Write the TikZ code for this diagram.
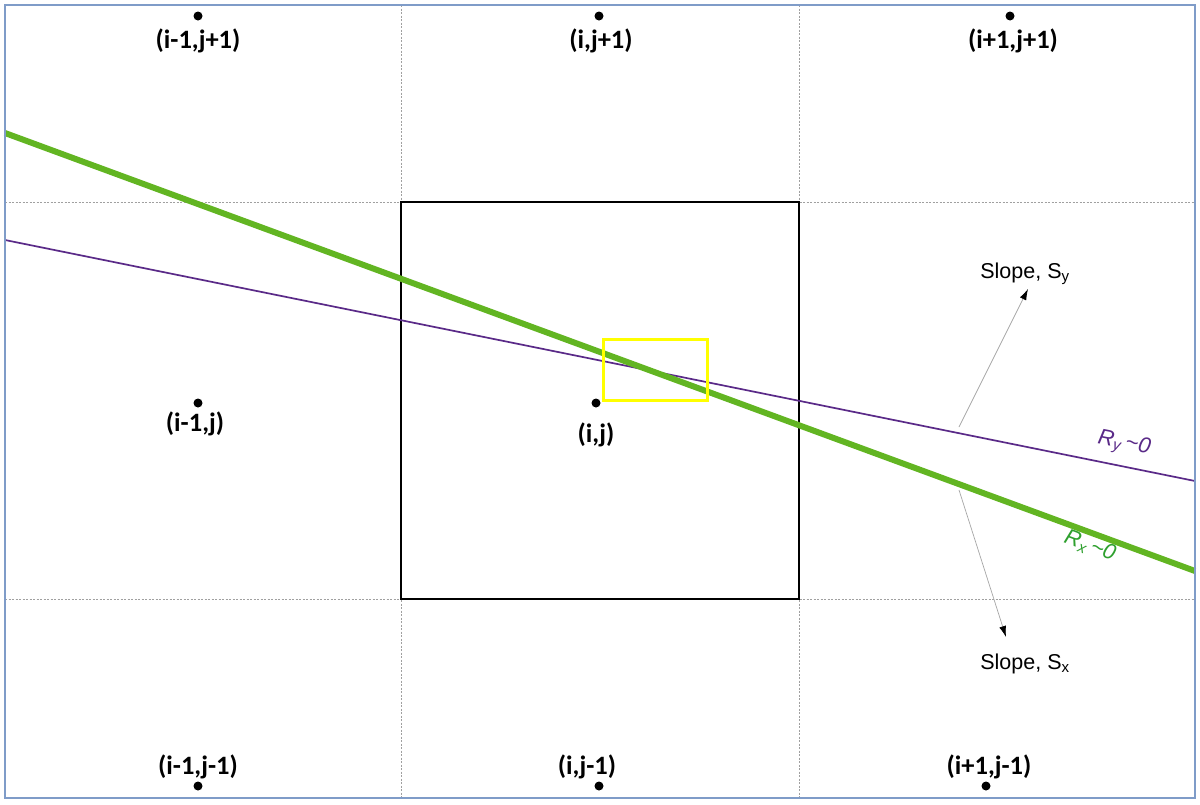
\documentclass[tikz,border=0pt]{standalone}
\usepackage{fontspec}
\setmainfont{Liberation Sans}
\newfontfamily\lblfont{Carlito}
\usetikzlibrary{arrows.meta}
\definecolor{frameblue}{HTML}{7F9CC8}
\definecolor{gridgray}{HTML}{A0A0A0}
\definecolor{rxgreen}{HTML}{62B522}
\definecolor{rxtext}{HTML}{2EA02E}
\definecolor{rypurple}{HTML}{5A2A88}
\definecolor{boxyellow}{HTML}{FFFF00}
\tikzset{
  pt/.style={circle,fill=black,inner sep=0pt,minimum size=9pt},
  lbl/.style={font=\lblfont\bfseries\fontsize{26.5}{28}\selectfont,inner sep=0pt},
  slopelbl/.style={font=\fontsize{21.5}{23}\selectfont,inner sep=0pt},
  rlbl/.style={font=\itshape\fontsize{22}{24}\selectfont,inner sep=0pt},
  gridline/.style={gridgray,dash pattern=on 2pt off 1.5pt,line width=0.6pt},
  slopearrow/.style={gray!70,line width=0.7pt,-{Latex[length=11pt,width=7pt,black]}},
}
\begin{document}
\begin{tikzpicture}[x=1pt,y=-1pt]
\useasboundingbox (0,0) rectangle (1200,804);
\fill[white] (0,0) rectangle (1200,804);
% grid
\draw[gridline] (401,5) -- (401,798);
\draw[gridline] (799,5) -- (799,798);
\draw[gridline] (5,202) -- (1195,202);
\draw[gridline] (5,599) -- (1195,599);
% central cell
\draw[black,line width=1.6pt] (401,202) rectangle (799,599);
% lines
\coordinate (gA) at (5,133);
\coordinate (gB) at (1195,571);
\coordinate (pA) at (5,240);
\coordinate (pB) at (1195,481);
\draw[rypurple,line width=1.7pt] (pA) -- (pB);
\draw[rxgreen,line width=6pt] (gA) -- (gB);
% yellow box
\draw[boxyellow,line width=3pt] (603,339) rectangle (707,400);
% frame
\draw[frameblue,line width=1.3pt] (5,5) rectangle (1195,798);
% points
\node[pt] (p1) at (198,16) {};
\node[pt] (p2) at (599,16) {};
\node[pt] (p3) at (1010,16) {};
\node[pt] (p4) at (198,403) {};
\node[pt] (p5) at (596,403) {};
\node[pt] (p6) at (198,786) {};
\node[pt] (p7) at (599,786) {};
\node[pt] (p8) at (986,786) {};
\node[lbl] (l1) at (198,41) {(i-1,j+1)};
\node[lbl] (l2) at (601,41) {(i,j+1)};
\node[lbl] (l3) at (1013,41) {(i+1,j+1)};
\node[lbl] (l4) at (195,424) {(i-1,j)};
\node[lbl] (l5) at (596,435) {(i,j)};
\node[lbl] (l6) at (198,767) {(i-1,j-1)};
\node[lbl] (l7) at (587,767) {(i,j-1)};
\node[lbl] (l8) at (989,767) {(i+1,j-1)};
% slope labels
\node[slopelbl] (sy) at (1025,274) {Slope, S\textsubscript{y}};
\node[slopelbl] (sx) at (1025,664) {Slope, S\textsubscript{x}};
\coordinate (syS) at (959,427);
\coordinate (sxS) at (959,490);
\draw[slopearrow] (syS) -- (1028,289);
\draw[slopearrow] (sxS) -- (1006,637);
% R labels
\node[rypurple,rlbl,rotate=-11.4] (ry) at (1124,444) {R\textsubscript{y}\,\textasciitilde 0};
\node[rxtext,rlbl,rotate=-20.2] (rx) at (1090,546) {R\textsubscript{x}\,\textasciitilde 0};
\end{tikzpicture}
\end{document}
